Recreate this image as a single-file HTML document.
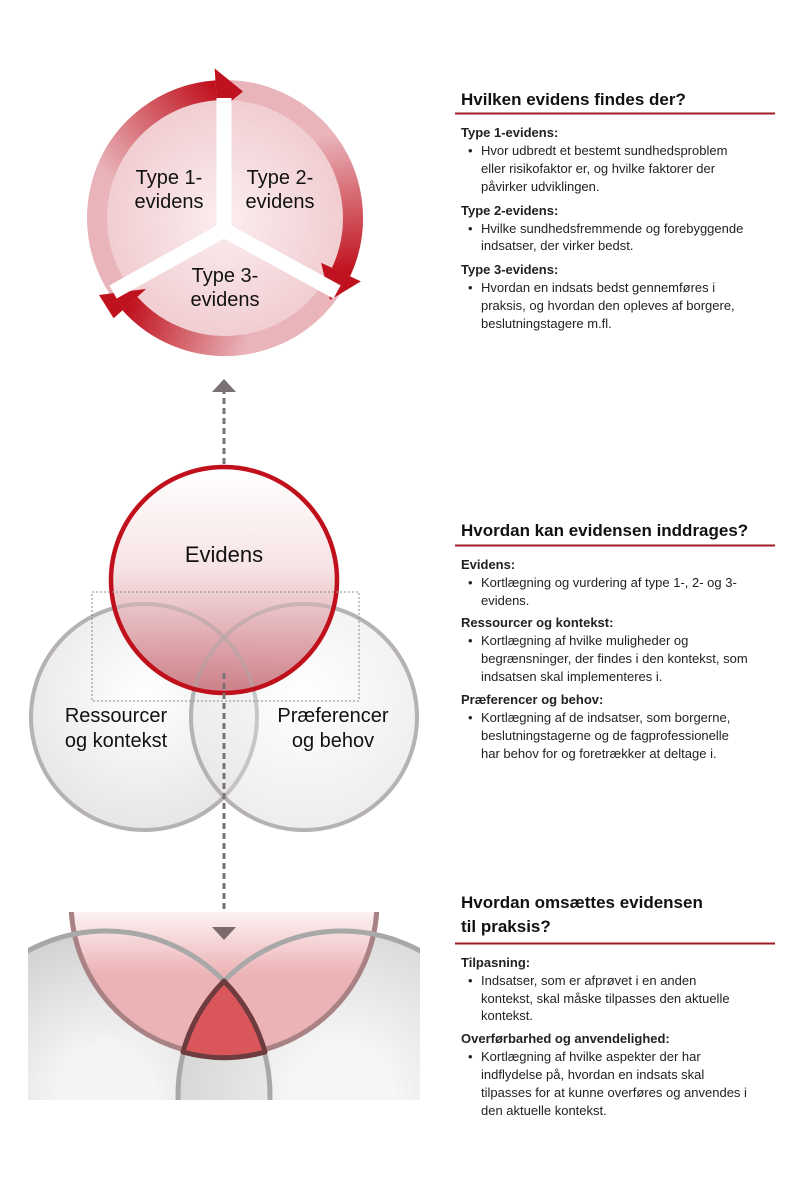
<!DOCTYPE html>
<html><head><meta charset="utf-8"><style>
html,body{margin:0;padding:0;background:#fff;overflow:hidden;width:800px;height:1181px;}
svg{display:block;}
text{font-family:"Liberation Sans",sans-serif;fill:#111;}
.h{font-size:17px;font-weight:bold;}
.l{font-size:13px;font-weight:bold;fill:#222;}
.b{font-size:13px;fill:#222;}
.d{font-size:20px;fill:#111;}
</style></head><body>
<svg width="800" height="1181" viewBox="0 0 800 1181" xmlns="http://www.w3.org/2000/svg">
<defs>
<radialGradient id="pie" cx="50%" cy="50%" r="50%"><stop offset="0" stop-color="#fbeef0"/><stop offset="1" stop-color="#f1cdd1"/></radialGradient>
<linearGradient id="g1" x1="105" y1="174" x2="216" y2="90" gradientUnits="userSpaceOnUse"><stop offset="0" stop-color="#e9b4ba"/><stop offset="1" stop-color="#c0121e"/></linearGradient>
<linearGradient id="g2" x1="323" y1="136" x2="341" y2="272" gradientUnits="userSpaceOnUse"><stop offset="0" stop-color="#e9b4ba"/><stop offset="1" stop-color="#c0121e"/></linearGradient>
<linearGradient id="g3" x1="247" y1="344" x2="130" y2="304" gradientUnits="userSpaceOnUse"><stop offset="0" stop-color="#e9b4ba"/><stop offset="1" stop-color="#c0121e"/></linearGradient>
<linearGradient id="ev" x1="0" y1="0" x2="0" y2="1"><stop offset="0" stop-color="#ffffff"/><stop offset="0.45" stop-color="#f6e0e2"/><stop offset="1" stop-color="#c9727b"/></linearGradient>
<radialGradient id="gr" cx="50%" cy="40%" r="60%"><stop offset="0" stop-color="#ffffff"/><stop offset="1" stop-color="#e6e6e6"/></radialGradient>
<radialGradient id="gr2" cx="50%" cy="50%" r="50%"><stop offset="0.3" stop-color="#f4f4f4"/><stop offset="1" stop-color="#d2d2d2"/></radialGradient>
<linearGradient id="rb" x1="0" y1="912" x2="0" y2="975" gradientUnits="userSpaceOnUse"><stop offset="0" stop-color="#fdf2f3"/><stop offset="1" stop-color="#ecb3b6"/></linearGradient>
<clipPath id="cp"><rect x="28" y="912" width="392" height="188"/></clipPath>
</defs>

<!-- TOP CYCLE -->
<circle cx="225" cy="218" r="119" fill="url(#pie)"/>
<circle cx="225" cy="218" r="128" fill="none" stroke="#e9b4ba" stroke-width="20"/>
<path d="M104.7,174.2 A128 128 0 0 1 216.1,90.3" fill="none" stroke="url(#g1)" stroke-width="20"/>
<path d="M323,135.7 A128 128 0 0 1 341,272.1" fill="none" stroke="url(#g2)" stroke-width="20"/>
<path d="M247.2,344.1 A128 128 0 0 1 129.9,303.6" fill="none" stroke="url(#g3)" stroke-width="20"/>
<polygon points="214.6,68.4 217.6,112.2 243,91.5" fill="#c0121e"/>
<polygon points="360.9,281.4 321.1,262.8 330,300" fill="#c0121e"/>
<polygon points="113.6,318.3 146.2,288.9 99,295" fill="#c0121e"/>
<g stroke="#fff" stroke-width="15" stroke-linecap="butt">
<line x1="224" y1="230" x2="224" y2="98"/>
<line x1="224" y1="230" x2="113" y2="292"/>
<line x1="224" y1="230" x2="337" y2="292"/>
</g>
<g text-anchor="middle">
<text x="169" y="184" class="d">Type 1-</text><text x="169" y="208" class="d">evidens</text>
<text x="280" y="184" class="d">Type 2-</text><text x="280" y="208" class="d">evidens</text>
<text x="225" y="282" class="d">Type 3-</text><text x="225" y="306" class="d">evidens</text>
</g>

<!-- arrows -->
<line x1="224" y1="464" x2="224" y2="392" stroke="#7a7272" stroke-width="3" stroke-dasharray="6 4"/>
<polygon points="212,392 236,392 224,379" fill="#7a7272"/>

<!-- MIDDLE VENN -->
<circle cx="144" cy="717" r="113" fill="url(#gr)" stroke="#bdbdbd" stroke-width="4"/>
<circle cx="304" cy="717" r="113" fill="url(#gr)" fill-opacity="0.7" stroke="#bdbdbd" stroke-width="4"/>
<circle cx="224" cy="580" r="113" fill="url(#ev)" fill-opacity="0.9"/>
<circle cx="144" cy="717" r="113" fill="none" stroke="#b0a8a8" stroke-opacity="0.5" stroke-width="4"/>
<circle cx="304" cy="717" r="113" fill="none" stroke="#b0a8a8" stroke-opacity="0.5" stroke-width="4"/>
<circle cx="224" cy="580" r="113" fill="none" stroke="#c0101c" stroke-width="4.5"/>
<rect x="92" y="592" width="267" height="109" fill="none" stroke="#888" stroke-width="1" stroke-dasharray="2 2"/>
<line x1="224" y1="673" x2="224" y2="926" stroke="#7a7272" stroke-width="3" stroke-dasharray="6 4"/>
<text x="224" y="562" text-anchor="middle" style="font-size:22px">Evidens</text>
<text x="116" y="722" text-anchor="middle" class="d">Ressourcer</text>
<text x="116" y="747" text-anchor="middle" class="d">og kontekst</text>
<text x="333" y="722" text-anchor="middle" class="d">Præferencer</text>
<text x="333" y="747" text-anchor="middle" class="d">og behov</text>

<!-- BOTTOM VENN -->
<g clip-path="url(#cp)">
<circle cx="106" cy="1095" r="164" fill="url(#gr2)"/>
<circle cx="342" cy="1095" r="164" fill="url(#gr2)" fill-opacity="0.8"/>
<circle cx="224" cy="902" r="153" fill="url(#rb)" stroke="#a98285" stroke-width="5"/>
<circle cx="106" cy="1095" r="164" fill="none" stroke="#a8a8a8" stroke-width="5"/>
<circle cx="342" cy="1095" r="164" fill="none" stroke="#a8a8a8" stroke-width="5"/>
<path d="M224,981 A164 164 0 0 0 183,1052 A153 153 0 0 0 265,1052 A164 164 0 0 0 224,981 Z" fill="#d9565b" stroke="#6e3b3e" stroke-width="5" stroke-linejoin="round"/>
</g>
<polygon points="212,927 236,927 224,940" fill="#7a6a6c"/>

<!-- RIGHT TEXT -->
<text x="461" y="105" class="h">Hvilken evidens findes der?</text>
<line x1="455" y1="113.5" x2="775" y2="113.5" stroke="#a01c22" stroke-width="2"/>
<text x="461" y="137" class="l">Type 1-evidens:</text>
<text x="468" y="155" class="b">•</text>
<text x="481" y="155" class="b">Hvor udbredt et bestemt sundhedsproblem</text>
<text x="481" y="173" class="b">eller risikofaktor er, og hvilke faktorer der</text>
<text x="481" y="191" class="b">påvirker udviklingen.</text>
<text x="461" y="215" class="l">Type 2-evidens:</text>
<text x="468" y="233" class="b">•</text>
<text x="481" y="233" class="b">Hvilke sundhedsfremmende og forebyggende</text>
<text x="481" y="250" class="b">indsatser, der virker bedst.</text>
<text x="461" y="274" class="l">Type 3-evidens:</text>
<text x="468" y="292" class="b">•</text>
<text x="481" y="292" class="b">Hvordan en indsats bedst gennemføres i</text>
<text x="481" y="310" class="b">praksis, og hvordan den opleves af borgere,</text>
<text x="481" y="328" class="b">beslutningstagere m.fl.</text>

<text x="461" y="536" class="h">Hvordan kan evidensen inddrages?</text>
<line x1="455" y1="545.5" x2="775" y2="545.5" stroke="#a01c22" stroke-width="2"/>
<text x="461" y="569" class="l">Evidens:</text>
<text x="468" y="587" class="b">•</text>
<text x="481" y="587" class="b">Kortlægning og vurdering af type 1-, 2- og 3-</text>
<text x="481" y="605" class="b">evidens.</text>
<text x="461" y="627" class="l">Ressourcer og kontekst:</text>
<text x="468" y="645" class="b">•</text>
<text x="481" y="645" class="b">Kortlægning af hvilke muligheder og</text>
<text x="481" y="663" class="b">begrænsninger, der findes i den kontekst, som</text>
<text x="481" y="681" class="b">indsatsen skal implementeres i.</text>
<text x="461" y="704" class="l">Præferencer og behov:</text>
<text x="468" y="722" class="b">•</text>
<text x="481" y="722" class="b">Kortlægning af de indsatser, som borgerne,</text>
<text x="481" y="740" class="b">beslutningstagerne og de fagprofessionelle</text>
<text x="481" y="758" class="b">har behov for og foretrækker at deltage i.</text>

<text x="461" y="908" class="h">Hvordan omsættes evidensen</text>
<text x="461" y="932" class="h">til praksis?</text>
<line x1="455" y1="943.5" x2="775" y2="943.5" stroke="#a01c22" stroke-width="2"/>
<text x="461" y="967" class="l">Tilpasning:</text>
<text x="468" y="985" class="b">•</text>
<text x="481" y="985" class="b">Indsatser, som er afprøvet i en anden</text>
<text x="481" y="1003" class="b">kontekst, skal måske tilpasses den aktuelle</text>
<text x="481" y="1020" class="b">kontekst.</text>
<text x="461" y="1043" class="l">Overførbarhed og anvendelighed:</text>
<text x="468" y="1061" class="b">•</text>
<text x="481" y="1061" class="b">Kortlægning af hvilke aspekter der har</text>
<text x="481" y="1079" class="b">indflydelse på, hvordan en indsats skal</text>
<text x="481" y="1097" class="b">tilpasses for at kunne overføres og anvendes i</text>
<text x="481" y="1115" class="b">den aktuelle kontekst.</text>
</svg>
</body></html>
